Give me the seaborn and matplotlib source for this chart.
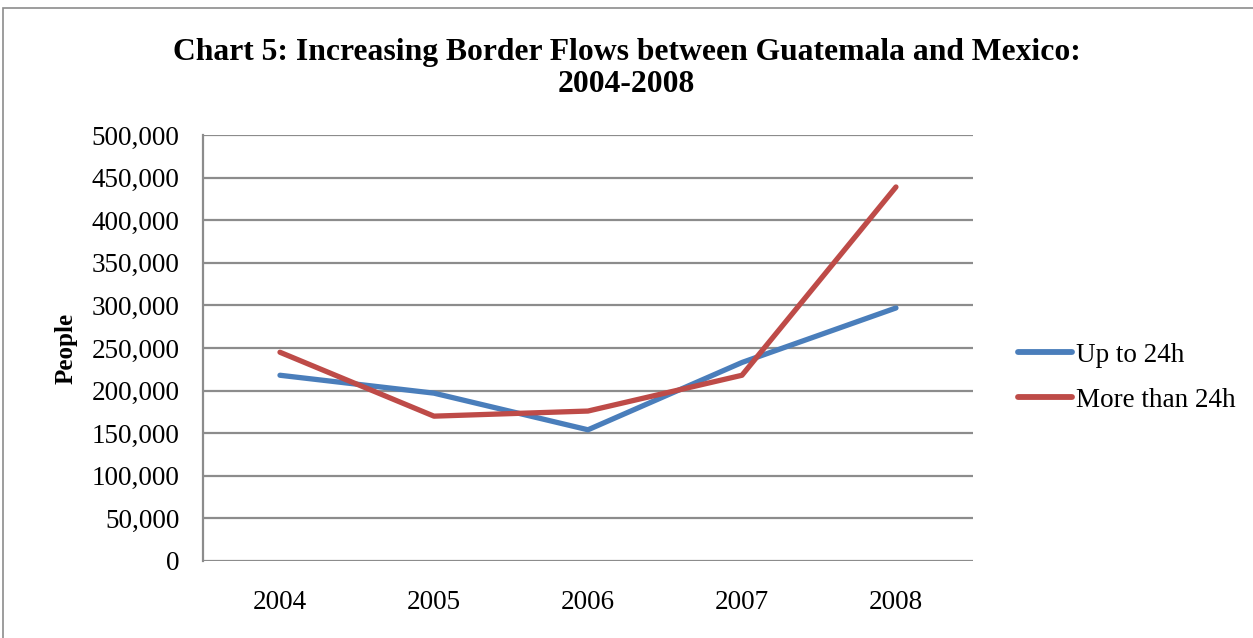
import matplotlib
matplotlib.use("Agg")
import matplotlib.pyplot as plt
from matplotlib.patches import Rectangle
from matplotlib.ticker import FuncFormatter
import seaborn as sns
import pandas as pd

years = ["2004", "2005", "2006", "2007", "2008"]
up_to_24h = [218000, 197000, 154000, 233000, 297000]
more_than_24h = [245000, 170000, 176000, 218000, 439000]
series_names = ["Up to 24h", "More than 24h"]
y_ticks = list(range(0, 500001, 50000))

df = pd.DataFrame({
    "Year": years * 2,
    "People": up_to_24h + more_than_24h,
    "Series": [series_names[0]] * len(years) + [series_names[1]] * len(years),
})

sns.set_theme(style="white")
plt.rcParams["font.family"] = ["Liberation Serif", "DejaVu Serif"]
plt.rcParams["text.color"] = "black"
plt.rcParams["axes.labelcolor"] = "black"

fig = plt.figure(figsize=(12.53, 6.38), dpi=100)
ax = fig.add_axes([0.1620, 0.1207, 0.6145, 0.6677])

palette = {series_names[0]: "#4a7ebb", series_names[1]: "#be4b48"}
sns.lineplot(data=df, x="Year", y="People", hue="Series", palette=palette,
             linewidth=3.8, ax=ax, sort=False, solid_capstyle="round")

ax.set_xlim(-0.5, len(years) - 0.5)
ax.set_ylim(0, 500000)
ax.set_yticks(y_ticks)
ax.yaxis.set_major_formatter(FuncFormatter(lambda v, _: f"{int(v):,}"))
ax.grid(axis="y", color="#8c8c8c", linewidth=1.6)
ax.set_axisbelow(True)
for side in ["top", "right", "bottom"]:
    ax.spines[side].set_visible(False)
ax.spines["left"].set_color("#8c8c8c")
ax.spines["left"].set_linewidth(1.6)
ax.tick_params(axis="both", length=0, labelsize=19.5, colors="black")
ax.tick_params(axis="y", pad=17)
ax.tick_params(axis="x", pad=21)
ax.set_xlabel("")
ax.set_ylabel("People", fontsize=18, fontweight="bold", labelpad=10, color="black")

fig.text(0.5, 0.893, "Chart 5: Increasing Border Flows between Guatemala and Mexico:\n2004-2008",
         ha="center", va="center", fontsize=22.8, fontweight="bold", linespacing=1.15,
         color="black")

handles, labels = ax.get_legend_handles_labels()
for h in handles:
    h.set_linewidth(4.2)
leg = ax.legend(handles, labels, loc="center left", bbox_to_anchor=(1.027, 0.43),
                frameon=False, fontsize=19.5, handlelength=2.0, handletextpad=0.12,
                labelspacing=0.75)
for t in leg.get_texts():
    t.set_color("black")

fig.patches.append(Rectangle((0.0025, -0.05), 1.1, 1.037, transform=fig.transFigure,
                             fill=False, edgecolor="#8c8c8c", linewidth=1.2))

fig.savefig("out.png", dpi=100, facecolor="white")
